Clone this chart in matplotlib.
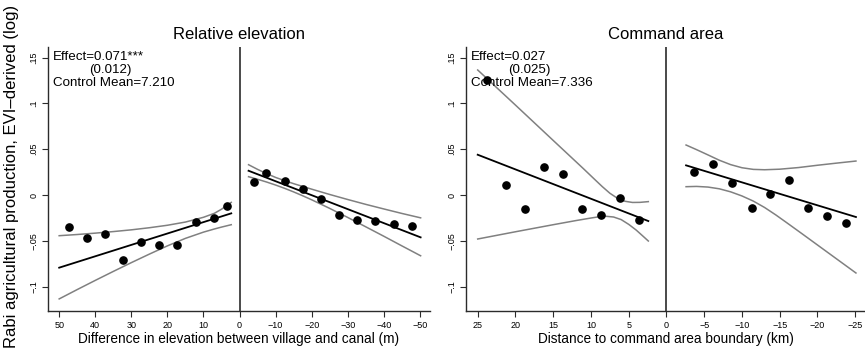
import matplotlib
matplotlib.use("Agg")
import matplotlib.pyplot as plt

plt.rcParams['font.family'] = ['Liberation Sans', 'DejaVu Sans']

# ---- Relative elevation: binned means, linear fits and 95% bands ----
elev_left_x = [47.3, 42.3, 37.2, 32.2, 27.2, 22.2, 17.3, 12.2, 7.2, 3.5]
elev_left_y = [-0.0349, -0.0473, -0.0429, -0.0713, -0.0517, -0.0542, -0.0542, -0.0295, -0.0248, -0.0124]
elev_right_x = [-3.9, -7.3, -12.5, -17.5, -22.5, -27.5, -32.5, -37.5, -42.7, -47.8]
elev_right_y = [0.0139, 0.0237, 0.0149, 0.0062, -0.0040, -0.0222, -0.0273, -0.0287, -0.0320, -0.0342]

elev_fit_left_x = [50.0, 2.3]
elev_fit_left_y = [-0.0793, -0.0200]
elev_fit_right_x = [-2.5, -50.2]
elev_fit_right_y = [0.0265, -0.0462]

elev_ci_left_x = [50.0, 45.0, 40.0, 35.0, 30.0, 25.0, 20.0, 15.0, 10.0, 7.0, 5.0, 2.3]
elev_ci_left_hi = [-0.0444, -0.0431, -0.0416, -0.0399, -0.0380, -0.0357, -0.0330, -0.0295,
                   -0.0243, -0.0200, -0.0155, -0.0080]
elev_ci_left_lo = [-0.1134, -0.1032, -0.0932, -0.0834, -0.0738, -0.0645, -0.0555, -0.0473,
                   -0.0405, -0.0371, -0.0350, -0.0324]
elev_ci_right_x = [-2.5, -5.0, -7.5, -10.0, -12.5, -15.0, -17.5, -20.0, -25.0, -30.0,
                   -35.0, -40.0, -45.0, -50.2]
elev_ci_right_hi = [0.0331, 0.0280, 0.0234, 0.0192, 0.0157, 0.0124, 0.0094, 0.0064, 0.0006,
                    -0.0049, -0.0102, -0.0152, -0.0201, -0.0249]
elev_ci_right_lo = [0.0200, 0.0172, 0.0142, 0.0109, 0.0073, 0.0034, -0.0008, -0.0052, -0.0146,
                    -0.0245, -0.0347, -0.0450, -0.0555, -0.0663]

# ---- Command area ----
cmd_left_x = [23.8, 21.2, 18.8, 16.2, 13.7, 11.2, 8.7, 6.1, 3.7]
cmd_left_y = [0.1255, 0.0109, -0.0153, 0.0302, 0.0233, -0.0156, -0.0222, -0.0033, -0.0269]
cmd_right_x = [-3.7, -6.2, -8.7, -11.3, -13.7, -16.2, -18.8, -21.3, -23.8]
cmd_right_y = [0.0248, 0.0335, 0.0128, -0.0138, 0.0015, 0.0167, -0.0138, -0.0233, -0.0309]

cmd_fit_left_x = [25.0, 2.4]
cmd_fit_left_y = [0.0440, -0.0284]
cmd_fit_right_x = [-2.6, -25.1]
cmd_fit_right_y = [0.0324, -0.0240]

cmd_ci_left_hi_x = [25.0, 20.0, 15.0, 11.0, 9.5, 8.5, 7.5, 6.5, 5.5, 4.5, 3.5, 2.4]
cmd_ci_left_hi = [0.1365, 0.0982, 0.0596, 0.0288, 0.0170, 0.0092, 0.0020, -0.0035, -0.0068,
                  -0.0081, -0.0080, -0.0072]
cmd_ci_left_lo_x = [25.0, 20.0, 15.0, 12.0, 10.0, 9.0, 8.0, 7.0, 6.0, 5.0, 4.0, 3.0, 2.4]
cmd_ci_left_lo = [-0.0480, -0.0401, -0.0324, -0.0279, -0.0251, -0.0238, -0.0232, -0.0240,
                  -0.0268, -0.0320, -0.0383, -0.0457, -0.0502]
cmd_ci_right_hi_x = [-2.6, -4.0, -5.5, -7.0, -8.5, -10.0, -11.5, -13.0, -15.0, -17.5, -20.0,
                     -22.5, -25.1]
cmd_ci_right_hi = [0.0546, 0.0495, 0.0438, 0.0380, 0.0332, 0.0298, 0.0280, 0.0276, 0.0282,
                   0.0300, 0.0325, 0.0348, 0.0371]
cmd_ci_right_lo_x = [-2.6, -4.0, -5.5, -7.0, -8.5, -10.0, -11.5, -13.0, -14.5, -16.0, -18.0,
                     -20.0, -22.5, -25.1]
cmd_ci_right_lo = [0.0091, 0.0094, 0.0087, 0.0068, 0.0035, -0.0010, -0.0066, -0.0136, -0.0218,
                   -0.0306, -0.0425, -0.0545, -0.0695, -0.0851]

y_ticks = [-0.1, -0.05, 0.0, 0.05, 0.1, 0.15]
y_tick_labels = ["\u2212.1", "\u2212.05", "0", ".05", ".1", ".15"]
elev_ticks = [50, 40, 30, 20, 10, 0, -10, -20, -30, -40, -50]
cmd_ticks = [25, 20, 15, 10, 5, 0, -5, -10, -15, -20, -25]

W, H = 865, 352
fig = plt.figure(figsize=(W / 100, H / 100), dpi=100)

def px_axes(x0, x1, ytop, ybot):
    return fig.add_axes([x0 / W, 1 - ybot / H, (x1 - x0) / W, (ybot - ytop) / H])

ax1 = px_axes(48, 430, 47, 311)
ax2 = px_axes(466, 865, 47, 311)

GRAY = '#808080'
DARK = '#2b2b2b'


def style(ax, ticks, xlim):
    ax.set_xlim(*xlim)
    ax.set_ylim(-0.1266, 0.1616)
    for s in ('top', 'right'):
        ax.spines[s].set_visible(False)
    for s in ('left', 'bottom'):
        ax.spines[s].set_color(DARK)
        ax.spines[s].set_linewidth(1.0)
    ax.set_xticks(ticks)
    ax.set_xticklabels([str(t).replace('-', '\u2212') for t in ticks])
    ax.set_yticks(y_ticks)
    ax.set_yticklabels(y_tick_labels, rotation=90, va='center')
    ax.tick_params(axis='both', labelsize=6.5, length=4, width=0.8, color=DARK, pad=3)
    ax.tick_params(axis='x', pad=3.5)
    ax.axvline(0, color=DARK, lw=1.2, zorder=1)


def panel(ax, lx, ly, rx, ry, fits, bands):
    for bx, by in bands:
        ax.plot(bx, by, color=GRAY, lw=1.1, zorder=2)
    for fx, fy in fits:
        ax.plot(fx, fy, color='black', lw=1.3, zorder=3)
    ax.plot(lx, ly, 'o', color='black', ms=5.2, zorder=4)
    ax.plot(rx, ry, 'o', color='black', ms=5.2, zorder=4)


style(ax1, elev_ticks, (53.1, -52.8))
panel(ax1, elev_left_x, elev_left_y, elev_right_x, elev_right_y,
      [(elev_fit_left_x, elev_fit_left_y), (elev_fit_right_x, elev_fit_right_y)],
      [(elev_ci_left_x, elev_ci_left_hi), (elev_ci_left_x, elev_ci_left_lo),
       (elev_ci_right_x, elev_ci_right_hi), (elev_ci_right_x, elev_ci_right_lo)])

style(ax2, cmd_ticks, (26.55, -26.3))
panel(ax2, cmd_left_x, cmd_left_y, cmd_right_x, cmd_right_y,
      [(cmd_fit_left_x, cmd_fit_left_y), (cmd_fit_right_x, cmd_fit_right_y)],
      [(cmd_ci_left_hi_x, cmd_ci_left_hi), (cmd_ci_left_lo_x, cmd_ci_left_lo),
       (cmd_ci_right_hi_x, cmd_ci_right_hi), (cmd_ci_right_lo_x, cmd_ci_right_lo)])

ax1.set_title("Relative elevation", fontsize=12, pad=6)
ax2.set_title("Command area", fontsize=12, pad=6)


def note(ax, effect, se, mean, se_dx):
    ax.text(0.012, 0.962, effect, transform=ax.transAxes, fontsize=9.6, va='center', ha='left')
    ax.text(0.012 + se_dx, 0.913, se, transform=ax.transAxes, fontsize=9.6, va='center', ha='left')
    ax.text(0.012, 0.864, mean, transform=ax.transAxes, fontsize=9.6, va='center', ha='left')


note(ax1, "Effect=0.071***", "(0.012)", "Control Mean=7.210", 0.096)
note(ax2, "Effect=0.027", "(0.025)", "Control Mean=7.336", 0.093)

fig.text(239 / W, 1 - 339 / H, "Difference in elevation between village and canal (m)",
         fontsize=9.8, ha='center', va='center')
fig.text(665.5 / W, 1 - 339 / H, "Distance to command area boundary (km)",
         fontsize=9.8, ha='center', va='center')
fig.text(12 / W, 1 - 176 / H, "Rabi agricultural production, EVI\u2013derived (log)",
         fontsize=12, rotation=90, ha='center', va='center')

fig.savefig("out.png", dpi=100)
